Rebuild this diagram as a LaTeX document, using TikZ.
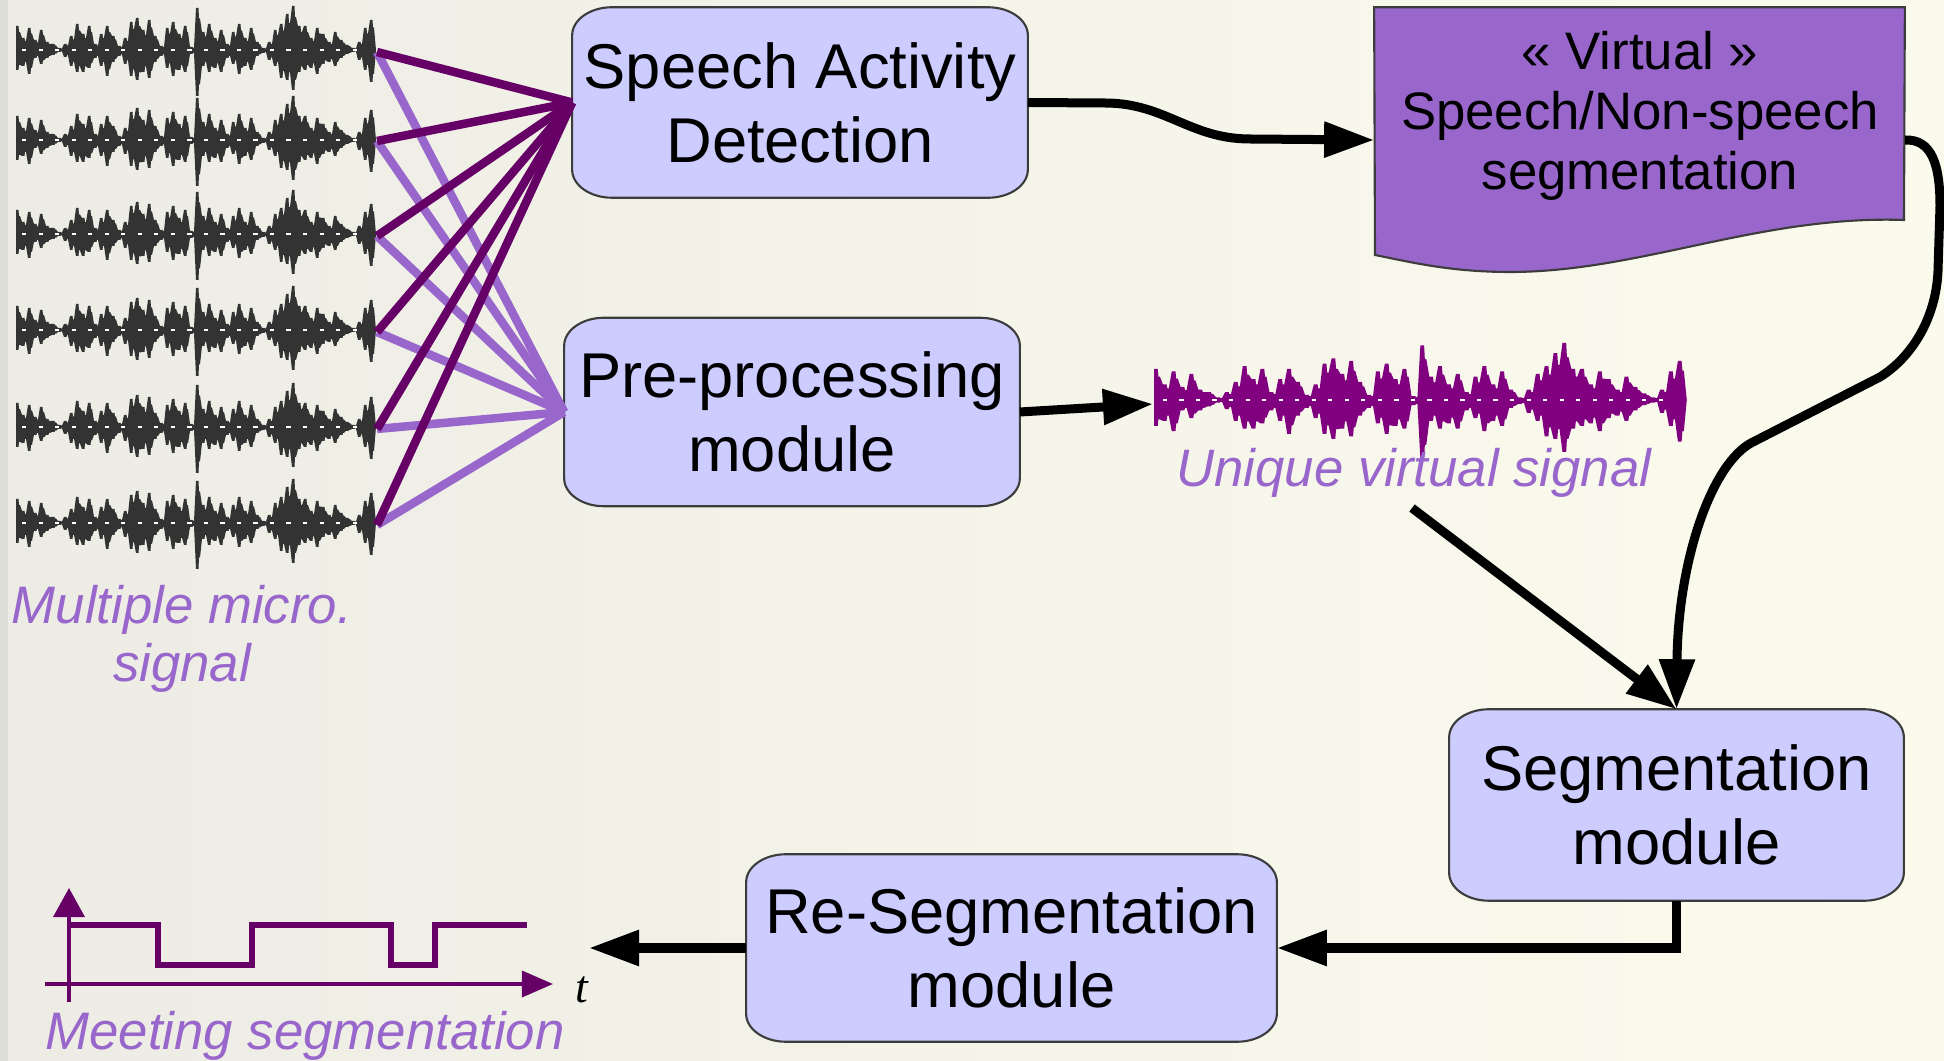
\documentclass[tikz,border=0pt]{standalone}
\usepackage{fontspec}
\setmainfont{Liberation Sans}
\newfontfamily\tfont{Liberation Serif}
\usetikzlibrary{arrows.meta,calc}
\pgfdeclarelayer{back}
\pgfdeclarelayer{mid}
\pgfsetlayers{back,mid,main}
\definecolor{dkpurple}{RGB}{102,0,102}
\definecolor{ltpurple}{RGB}{153,102,204}
\definecolor{boxfill}{RGB}{204,204,255}
\definecolor{boxedge}{RGB}{60,60,60}
\definecolor{wavepurple}{RGB}{128,0,128}
\definecolor{wavegrey}{RGB}{51,51,51}
\definecolor{bgl}{RGB}{236,236,229}
\definecolor{bgr}{RGB}{251,251,237}
\definecolor{bgstrip}{RGB}{222,222,216}
\tikzset{
  boxnode/.style={draw=none, inner sep=0pt, align=center, font=\fontsize{18}{21}\selectfont},
  boxshape/.style={fill=boxfill, draw=boxedge, line width=0.6pt},
  conn/.style={line width=0.09cm, -{Triangle[length=0.5cm,width=0.34cm]}},
  fandark/.style={dkpurple, line width=0.085cm},
  fanlight/.style={ltpurple, line width=0.085cm},
  lbl/.style={ltpurple, font=\fontsize{15}{16.5}\selectfont\itshape, inner sep=0pt, align=center},
}
\newcommand{\softbox}[1]{%
  \begin{pgfonlayer}{mid}
  \filldraw[boxshape] ($(#1.north west)+(40,0)$) -- ($(#1.north east)+(-40,0)$)
    arc[start angle=90,end angle=0,x radius=0.4cm,y radius=0.28cm]
    -- ($(#1.south east)+(0,-28)$)
    arc[start angle=0,end angle=-90,x radius=0.4cm,y radius=0.28cm]
    -- ($(#1.south west)+(40,0)$)
    arc[start angle=270,end angle=180,x radius=0.4cm,y radius=0.28cm]
    -- ($(#1.north west)+(0,28)$)
    arc[start angle=180,end angle=90,x radius=0.4cm,y radius=0.28cm] -- cycle;
  \end{pgfonlayer}}
\newcommand{\micwave}[1]{%
  \fill[#1] (0,0) foreach \wa [count=\wi from 0] in {24,12,22,10,20,8,6,2,6,14,26,16,24,6,16,24,14,4,12,28,32,20,30,14,4,22,28,16,24,3,42,18,26,12,20,6,18,26,12,22,8,2,8,20,26,36,44,24,24,12,22,16,8,18,10,5,2,8,22,30}
    { -- (\wi*6,-\wa) -- (\wi*6+2.5,-\wa) -- (\wi*6+3,-0.75*\wa) -- (\wi*6+4,-0.75*\wa) } -- (360,0) -- cycle;
  \fill[#1] (0,0) foreach \wa [count=\wi from 0] in {20,16,24,8,14,8,5,2,7,16,22,22,18,8,16,26,12,6,14,26,30,22,28,12,6,18,26,20,22,4,46,16,22,18,22,8,14,24,16,20,6,3,10,16,28,30,40,22,20,18,24,14,12,16,8,4,2,10,20,32}
    { -- (\wi*6,\wa) -- (\wi*6+2.5,\wa) -- (\wi*6+3,0.75*\wa) -- (\wi*6+4,0.75*\wa) } -- (360,0) -- cycle;
  \draw[white, line width=0.35pt, dash pattern=on 1.2pt off 3.5pt] (6,0) -- (350,0);
}
\begin{document}
\begin{tikzpicture}[x=0.01cm,y=-0.01cm]
\useasboundingbox (0,0) rectangle (1944,1061);
\begin{pgfonlayer}{back}
  \shade[left color=bgl,right color=bgr] (0,0) rectangle (1944,1061);
  \fill[bgstrip] (0,0) rectangle (8,1061);
\end{pgfonlayer}

% boxes
\node[boxnode, minimum width=4.54cm, minimum height=1.89cm] (sad) at (800,102.5) {Speech Activity\\Detection};
\node[boxnode, minimum width=4.54cm, minimum height=1.87cm] (pre) at (792,412) {Pre-processing\\module};
\node[boxnode, minimum width=4.53cm, minimum height=1.90cm] (seg) at (1676.5,805) {Segmentation\\module};
\node[boxnode, minimum width=5.29cm, minimum height=1.86cm] (reseg) at (1011.5,948) {Re-Segmentation\\module};
\softbox{sad}
\softbox{pre}
\softbox{seg}
\softbox{reseg}

% document shape
\node[minimum width=5.29cm, minimum height=2.64cm, inner sep=0pt] (doc) at (1639.5,140) {};
\begin{pgfonlayer}{mid}
  \filldraw[fill=ltpurple, draw=boxedge, line width=0.6pt] (doc.north west) -- (doc.north east) -- (1904,220)
    .. controls (1760,215) and (1640,272) .. (1510,272)
    .. controls (1450,272) and (1410,262) .. (1375,255) -- cycle;
\end{pgfonlayer}
\node[align=center, font=\fontsize{15}{17}\selectfont, inner sep=0pt] (doctext) at (1640,116) {« Virtual »\\Speech/Non-speech\\segmentation};

% microphone waveforms
\foreach \yy in {50,140,234,330,427,523} {
  \begin{scope}[shift={(16,\yy)}] \micwave{wavegrey} \end{scope}
}
\foreach \k/\yy in {1/52,2/141,3/236,4/332,5/429,6/525} { \coordinate (m\k) at (377,\yy); }
\foreach \k in {1,...,6} { \draw[fanlight] (m\k) -- (pre.west); }
\foreach \k in {1,...,6} { \draw[fandark] (m\k) -- (sad.west); }

% virtual signal
\begin{scope}[shift={(1154,400)}, xscale=1.48, yscale=1.3] \micwave{wavepurple} \end{scope}

% labels
\node[lbl, anchor=north] (multi) at (182,585) {Multiple micro.\\signal};
\node[lbl, anchor=base] (uniq) at (1414,487) {Unique virtual signal};
\node[lbl, anchor=base] (meet) at (305,1050) {Meeting segmentation};

% connectors
\coordinate (vin) at (1153,404);
\coordinate (uvs) at (1412,508);
\coordinate (out) at (589,948);
\draw[conn] (sad.east) -- (1105,103) .. controls (1165,103) and (1190,139) .. (1250,139) -- (doc.west);
\draw[conn] (doc.east) .. controls (1932,139) and (1940,165) .. (1940,206) -- (1938,271)
   .. controls (1936,318) and (1912,357) .. (1880,377) -- (1753,442)
   .. controls (1712,462) and (1678,560) .. (seg.north);
\draw[conn] (pre.east) -- (vin);
\draw[conn] (uvs) -- (seg.north);
\draw[conn] (seg.south) |- (reseg.east);
\draw[conn] (reseg.west) -- (out);

% meeting segmentation plot
\draw[dkpurple, line width=0.035cm, -{Triangle[length=0.29cm,width=0.31cm]}] (69,1002) -- (69,888);
\draw[dkpurple, line width=0.035cm, -{Triangle[length=0.31cm,width=0.26cm]}] (45,984) -- (553,984);
\draw[dkpurple, line width=0.055cm] (69,925) -- (158,925) -- (158,965) -- (252,965) -- (252,925)
   -- (391,925) -- (391,965) -- (435,965) -- (435,925) -- (527,925);
\node[anchor=base west, font=\fontsize{13}{15}\selectfont\tfont\itshape, inner sep=0pt] (tlab) at (575,1003) {t};
\end{tikzpicture}
\end{document}
